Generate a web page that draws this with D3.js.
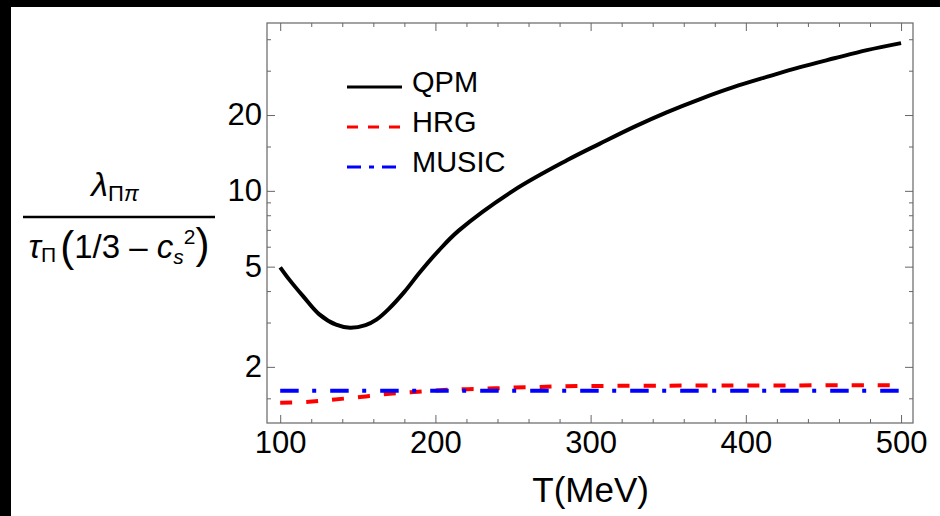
<!DOCTYPE html>
<html>
<head>
<meta charset="utf-8">
<script src="https://cdn.jsdelivr.net/npm/d3@7"></script>
<style>
  body { margin: 0; background: #000; }
  text { font-family: "Liberation Sans", Arial, sans-serif; fill: #000; }
</style>
</head>
<body>
<div id="drawing"></div>
<script>
// values
const qpmT = [100, 106, 115, 125, 136, 145, 155, 162, 170, 180, 190, 202, 215, 250, 285, 306, 328, 349, 371, 392, 414, 435, 457, 478, 500];
const qpmValues = [4.97, 4.43, 3.80, 3.24, 2.94, 2.86, 2.93, 3.08, 3.40, 3.97, 4.75, 5.78, 6.95, 10.0, 13.25, 15.4, 17.95, 20.5, 23.2, 25.8, 28.4, 31.0, 33.6, 36.2, 38.6];
const hrgT = [100, 117, 132, 150, 167, 184, 216, 233, 250, 266, 283, 350, 420, 500];
const hrgValues = [1.442, 1.451, 1.478, 1.515, 1.557, 1.586, 1.630, 1.639, 1.654, 1.664, 1.675, 1.684, 1.688, 1.690];
const musicT = [100, 500];
const musicValues = [1.609, 1.609];

const seriesNames = ["QPM", "HRG", "MUSIC"];
const xTicks = [100, 200, 300, 400, 500];
const xMinorTicks = [120, 140, 160, 180, 220, 240, 260, 280, 320, 340, 360, 380, 420, 440, 460, 480];
const yTicks = [2, 5, 10, 20];
const yMinorTicks = [1.5, 3, 4, 6, 7, 8, 9, 15, 30, 40];

const width = 940;
const height = 516;
const plot = {left: 267, right: 913, top: 23, bottom: 423};

const svg = d3.select("#drawing").append("svg")
  .attr("width", width)
  .attr("height", height)
  .style("display", "block");

// white page with black strip on top and left
svg.append("rect")
  .attr("x", 11).attr("y", 7)
  .attr("width", width - 11).attr("height", height - 7)
  .attr("fill", "#fff");

const x = d3.scaleLinear().domain([91.5, 507.7]).range([plot.left, plot.right]);
const y = d3.scaleLog().domain([1.197, 46.4]).range([plot.bottom, plot.top]);

const tickColor = "#666";

function styleAxis(g) {
  g.select(".domain").remove();
  g.selectAll(".tick line").attr("stroke", tickColor);
  g.selectAll(".tick text").attr("font-size", 31).attr("fill", "#000");
}

// bottom
svg.append("g").attr("transform", `translate(0,${plot.bottom})`)
  .call(d3.axisBottom(x).tickValues(xTicks).tickSize(-8).tickPadding(8).tickFormat(d3.format("d")))
  .call(styleAxis);
svg.append("g").attr("transform", `translate(0,${plot.bottom})`)
  .call(d3.axisBottom(x).tickValues(xMinorTicks).tickSize(-4).tickFormat(""))
  .call(styleAxis);
// top
svg.append("g").attr("transform", `translate(0,${plot.top})`)
  .call(d3.axisTop(x).tickValues(xTicks).tickSize(-8).tickFormat(""))
  .call(styleAxis);
svg.append("g").attr("transform", `translate(0,${plot.top})`)
  .call(d3.axisTop(x).tickValues(xMinorTicks).tickSize(-4).tickFormat(""))
  .call(styleAxis);
// left
svg.append("g").attr("transform", `translate(${plot.left},0)`)
  .call(d3.axisLeft(y).tickValues(yTicks).tickSize(-8).tickPadding(5).tickFormat(d3.format("d")))
  .call(styleAxis);
svg.append("g").attr("transform", `translate(${plot.left},0)`)
  .call(d3.axisLeft(y).tickValues(yMinorTicks).tickSize(-4).tickFormat(""))
  .call(styleAxis);
// right
svg.append("g").attr("transform", `translate(${plot.right},0)`)
  .call(d3.axisRight(y).tickValues(yTicks).tickSize(-8).tickFormat(""))
  .call(styleAxis);
svg.append("g").attr("transform", `translate(${plot.right},0)`)
  .call(d3.axisRight(y).tickValues(yMinorTicks).tickSize(-4).tickFormat(""))
  .call(styleAxis);

// frame
svg.append("rect")
  .attr("x", plot.left).attr("y", plot.top)
  .attr("width", plot.right - plot.left).attr("height", plot.bottom - plot.top)
  .attr("fill", "none").attr("stroke", tickColor).attr("stroke-width", 1.2);

// curves
const line = d3.line()
  .x(d => x(d[0]))
  .y(d => y(d[1]))
  .curve(d3.curveCatmullRom.alpha(0.5));

const series = [
  {name: seriesNames[0], pts: d3.zip(qpmT, qpmValues), color: "#000", dash: null, legendDash: null},
  {name: seriesNames[1], pts: d3.zip(hrgT, hrgValues), color: "#f00", dash: "12,14", legendDash: "11,10"},
  {name: seriesNames[2], pts: d3.zip(musicT, musicValues), color: "#00f", dash: "18.5,13.5,4,14", legendDash: "14,8,5,8"}
];

svg.append("g").selectAll("path")
  .data(series)
  .enter()
  .append("path")
    .attr("d", d => line(d.pts))
    .attr("fill", "none")
    .attr("stroke", d => d.color)
    .attr("stroke-width", 4)
    .attr("stroke-linejoin", "round")
    .attr("stroke-dasharray", d => d.dash);

// legend
const legend = svg.append("g").selectAll("g")
  .data(series)
  .enter()
  .append("g")
    .attr("transform", (d, i) => `translate(347,${87 + 40 * i})`);
legend.append("line")
  .attr("x1", 0).attr("x2", 55)
  .attr("stroke", d => d.color)
  .attr("stroke-width", 3.2)
  .attr("stroke-dasharray", d => d.legendDash);
legend.append("text")
  .attr("x", 65).attr("y", 5)
  .attr("font-size", 29)
  .text(d => d.name);

// x axis title
svg.append("text")
  .attr("x", (x(100) + x(500)) / 2).attr("y", 502)
  .attr("text-anchor", "middle")
  .attr("font-size", 35)
  .text("T(MeV)");

// y axis label: fraction
const ylab = svg.append("g");
const num = ylab.append("text")
  .attr("x", 115).attr("y", 196)
  .attr("text-anchor", "middle")
  .attr("font-size", 34);
num.append("tspan").attr("font-style", "italic").text("λ");
num.append("tspan").attr("font-size", 22).attr("dy", 5).text("Π");
num.append("tspan").attr("font-size", 22).attr("font-style", "italic").text("π");

ylab.append("line")
  .attr("x1", 23).attr("x2", 215)
  .attr("y1", 217).attr("y2", 217)
  .attr("stroke", "#000").attr("stroke-width", 2.5);

const den = ylab.append("text")
  .attr("x", 119).attr("y", 258)
  .attr("text-anchor", "middle")
  .attr("font-size", 33);
den.append("tspan").attr("font-style", "italic").text("τ");
den.append("tspan").attr("font-size", 21).attr("dy", 4).text("Π");
den.append("tspan").attr("font-size", 42).attr("dy", -1).attr("dx", 4).text("(");
den.append("tspan").attr("dy", -3).text("1/3 – ");
den.append("tspan").attr("font-style", "italic").text("c");
den.append("tspan").attr("font-size", 21).attr("font-style", "italic").attr("dy", 6).text("s");
den.append("tspan").attr("font-size", 21).attr("dy", -20).text("2");
den.append("tspan").attr("font-size", 42).attr("dy", 14).text(")");
</script>
</body>
</html>
